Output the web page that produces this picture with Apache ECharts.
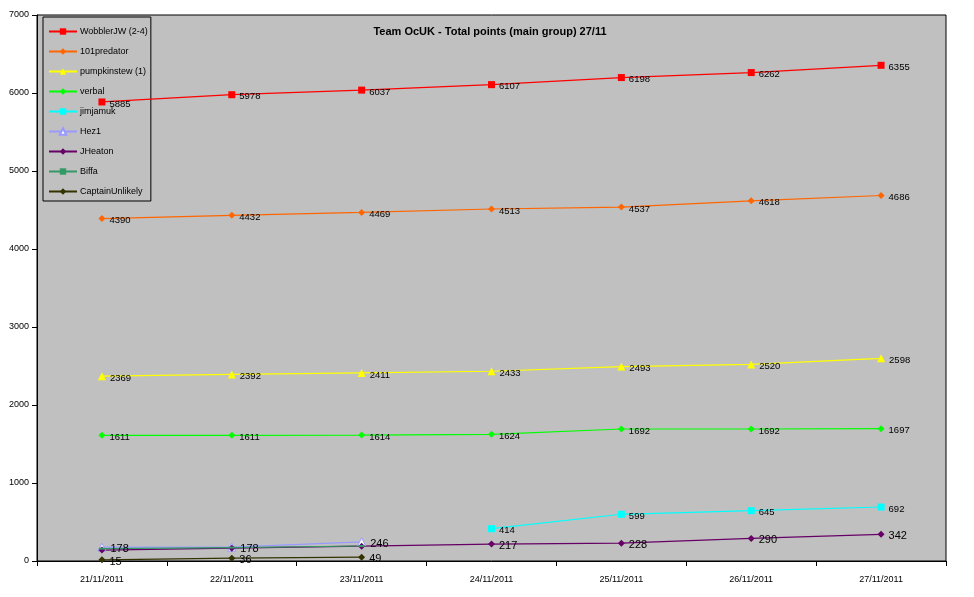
<!DOCTYPE html>
<html>
<head>
<meta charset="utf-8">
<script src="https://cdn.jsdelivr.net/npm/echarts@6/dist/echarts.min.js"></script>
<style>
  html, body { margin: 0; padding: 0; background: #fff; }
  #chart { width: 974px; height: 597px; }
</style>
</head>
<body>
<div id="chart"></div>
<script>
// categories and tick labels
const days = ['21/11/2011', '22/11/2011', '23/11/2011', '24/11/2011', '25/11/2011', '26/11/2011', '27/11/2011']
const yTicks = [0, 1000, 2000, 3000, 4000, 5000, 6000, 7000]

// series values ('-' = no point that day)
const wobblerJW = [5885, 5978, 6037, 6107, 6198, 6262, 6355]
const predator101 = [4390, 4432, 4469, 4513, 4537, 4618, 4686]
const pumpkinstew = [2369, 2392, 2411, 2433, 2493, 2520, 2598]
const verbal = [1611, 1611, 1614, 1624, 1692, 1692, 1697]
const jimjamuk = ['-', '-', '-', 414, 599, 645, 692]
const hez1 = [178, 178, 246, '-', '-', '-', '-']
const jHeaton = [140, 165, 190, 217, 228, 290, 342]
const biffa = [158, 172, 192, '-', '-', '-', '-']
const captainUnlikely = [15, 36, 49, '-', '-', '-', '-']

const font = 'Arial, "Liberation Sans", sans-serif'

const mkSeries = (name, data, color, symbol, size, opts = {}) => ({
  name,
  type: 'line',
  data,
  z: 3,
  symbol,
  symbolSize: size,
  showAllSymbol: true,
  connectNulls: false,
  animation: false,
  lineStyle: { color, width: 1.2 },
  itemStyle: opts.itemStyle || { color },
  emphasis: { disabled: true },
  label: {
    show: opts.noLabel ? false : true,
    position: 'right',
    distance: 4,
    offset: [0, 2],
    color: '#000',
    fontFamily: font,
    fontSize: opts.fontSize || 9.5,
    formatter: opts.formatter || '{c}'
  }
})

const chart = echarts.init(document.getElementById('chart'))
chart.setOption({
  backgroundColor: '#fff',
  title: {
    text: 'Team OcUK - Total points (main group) 27/11',
    left: 485,
    top: 21,
    textAlign: 'center',
    textStyle: { fontFamily: font, fontSize: 11, fontWeight: 'bold', color: '#000' }
  },
  legend: {
    orient: 'vertical',
    left: 43,
    top: 17,
    z: 1,
    padding: [10, 3, 5, 5],
    itemGap: 11,
    itemWidth: 28,
    itemHeight: 8,
    backgroundColor: '#C0C0C0',
    borderColor: '#000',
    borderWidth: 1,
    textStyle: { fontFamily: font, fontSize: 9, color: '#000', padding: [0, 0, 0, -2] },
    selectedMode: false
  },
  grid: { left: 37, right: 28, top: 15, bottom: 36, show: true, backgroundColor: '#C0C0C0', borderColor: '#000', borderWidth: 1 },
  xAxis: {
    type: 'category',
    data: days,
    boundaryGap: true,
    axisLine: { lineStyle: { color: '#000', width: 1 } },
    axisTick: { show: true, length: 5, lineStyle: { color: '#000' } },
    axisLabel: { fontFamily: font, fontSize: 9, color: '#000', margin: 14 },
    splitLine: { show: false }
  },
  yAxis: {
    type: 'value',
    min: yTicks[0],
    max: yTicks[yTicks.length - 1],
    interval: 1000,
    axisLine: { show: true, lineStyle: { color: '#000', width: 1 } },
    axisTick: { show: true, length: 5, lineStyle: { color: '#000' } },
    axisLabel: { fontFamily: font, fontSize: 9, color: '#000', margin: 8, formatter: v => String(v) },
    splitLine: { show: false }
  },
  series: [
    mkSeries('WobblerJW (2-4)', wobblerJW, '#FF0000', 'rect', 7),
    mkSeries('101predator', predator101, '#FF6600', 'diamond', 7),
    mkSeries('pumpkinstew (1)', pumpkinstew, '#FFFF00', 'triangle', 8),
    mkSeries('verbal', verbal, '#00FF00', 'diamond', 7),
    mkSeries('jimjamuk', jimjamuk, '#00FFFF', 'rect', 7),
    mkSeries('Hez1', hez1, '#9999FF', 'triangle', 8, {
      fontSize: 11,
      itemStyle: { color: '#fff', borderColor: '#9999FF', borderWidth: 1 }
    }),
    mkSeries('JHeaton', jHeaton, '#660066', 'diamond', 7, {
      fontSize: 11,
      formatter: p => (p.dataIndex < 3 ? '' : p.value)
    }),
    mkSeries('Biffa', biffa, '#339966', 'rect', [6, 2], { noLabel: true }),
    mkSeries('CaptainUnlikely', captainUnlikely, '#333300', 'diamond', 7, { fontSize: 11 })
  ]
})
</script>
</body>
</html>
